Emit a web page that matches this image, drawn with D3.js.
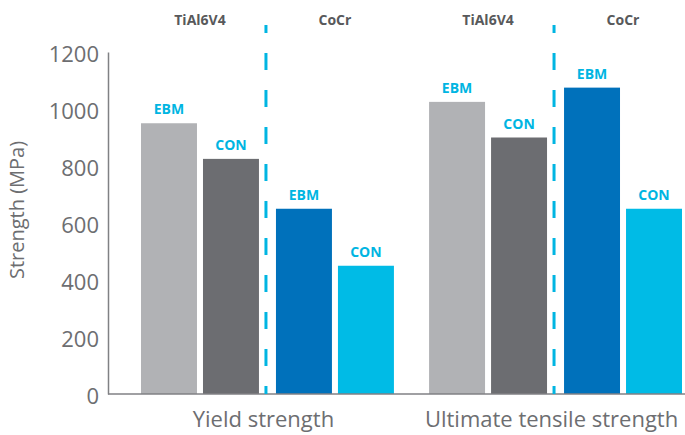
<!DOCTYPE html>
<html>
<head>
<meta charset="utf-8">
<script src="https://cdn.jsdelivr.net/npm/d3@7"></script>
<style>
  body { margin: 0; background: #fff; }
  svg { font-family: "Open Sans", "Noto Sans", sans-serif; }
</style>
</head>
<body>
<svg id="chart" width="685" height="435"></svg>
<script>
// data
var categories = ["Yield strength", "Ultimate tensile strength"];
var materials = ["TiAl6V4", "CoCr"];
var processes = ["EBM", "CON"];
var tiEBM = [950, 1025];
var tiCON = [825, 900];
var coEBM = [650, 1075];
var coCON = [450, 650];
var yTicks = [0, 200, 400, 600, 800, 1000, 1200];

var colors = {
  "TiAl6V4 EBM": "#b1b2b5",
  "TiAl6V4 CON": "#6c6d71",
  "CoCr EBM": "#0071bb",
  "CoCr CON": "#00bbe6"
};

var rows = [];
categories.forEach(function(c, i) {
  rows.push({cat: c, mat: "TiAl6V4", proc: "EBM", value: tiEBM[i]});
  rows.push({cat: c, mat: "TiAl6V4", proc: "CON", value: tiCON[i]});
  rows.push({cat: c, mat: "CoCr", proc: "EBM", value: coEBM[i]});
  rows.push({cat: c, mat: "CoCr", proc: "CON", value: coCON[i]});
});

var svg = d3.select("#chart");

var y = d3.scaleLinear().domain([0, 1200]).range([394, 52]);

var x0 = d3.scaleBand().domain(categories).range([141, 682]).paddingInner(0.122);
var xm = d3.scaleBand().domain(materials).range([0, x0.bandwidth()]).paddingInner(0.126);
var xp = d3.scaleBand().domain(processes).range([0, xm.bandwidth()]).paddingInner(0.097);

function barX(d) { return x0(d.cat) + xm(d.mat) + xp(d.proc); }

// y axis
var yAxis = d3.axisLeft(y).tickValues(yTicks).tickFormat(d3.format("d")).tickSize(0).tickPadding(9);
var ga = svg.append("g").attr("transform", "translate(108,0)").call(yAxis);
ga.select(".domain").attr("stroke", "#808184").attr("stroke-width", 1.5);
ga.selectAll("text")
  .attr("font-family", "'Open Sans', sans-serif")
  .attr("font-size", 22)
  .attr("fill", "#6d6e71")
  .attr("dy", "0.42em");

svg.append("text")
  .attr("transform", "translate(24,210) rotate(-90)")
  .attr("text-anchor", "middle")
  .attr("font-size", 20)
  .attr("fill", "#6d6e71")
  .text("Strength (MPa)");

// bars
svg.selectAll("rect.bar")
  .data(rows)
  .enter().append("rect")
  .attr("class", "bar")
  .attr("x", barX)
  .attr("y", function(d) { return y(d.value); })
  .attr("width", xp.bandwidth())
  .attr("height", function(d) { return y(0) - y(d.value); })
  .attr("fill", function(d) { return colors[d.mat + " " + d.proc]; });

// EBM / CON labels
svg.selectAll("text.lab")
  .data(rows)
  .enter().append("text")
  .attr("class", "lab")
  .attr("x", function(d) { return barX(d) + xp.bandwidth() / 2; })
  .attr("y", function(d) { return y(d.value) - 9; })
  .attr("text-anchor", "middle")
  .attr("font-size", 14)
  .attr("font-weight", "bold")
  .attr("fill", "#00b5e2")
  .text(function(d) { return d.proc; });

// x baseline
svg.append("line")
  .attr("x1", 108).attr("x2", 685)
  .attr("y1", y(0)).attr("y2", y(0))
  .attr("stroke", "#808184").attr("stroke-width", 1.5);

// dashed separators and material headers
categories.forEach(function(c) {
  var sx = x0(c) + (xm.bandwidth() + xm("CoCr")) / 2 - 1.5;
  svg.append("line")
    .attr("x1", sx).attr("x2", sx)
    .attr("y1", 25).attr("y2", y(0))
    .attr("stroke", "#00b5e2")
    .attr("stroke-width", 3)
    .attr("stroke-dasharray", "17,20")
    .attr("stroke-dashoffset", 9);

  materials.forEach(function(m) {
    svg.append("text")
      .attr("x", x0(c) + xm(m) + xm.bandwidth() / 2)
      .attr("y", 25)
      .attr("text-anchor", "middle")
      .attr("font-size", 14)
      .attr("font-weight", "bold")
      .attr("fill", "#58595b")
      .text(m);
  });

  svg.append("text")
    .attr("x", x0(c) + x0.bandwidth() / 2 - 4)
    .attr("y", 427)
    .attr("text-anchor", "middle")
    .attr("font-size", 22)
    .attr("fill", "#6d6e71")
    .text(c);
});
</script>
</body>
</html>
